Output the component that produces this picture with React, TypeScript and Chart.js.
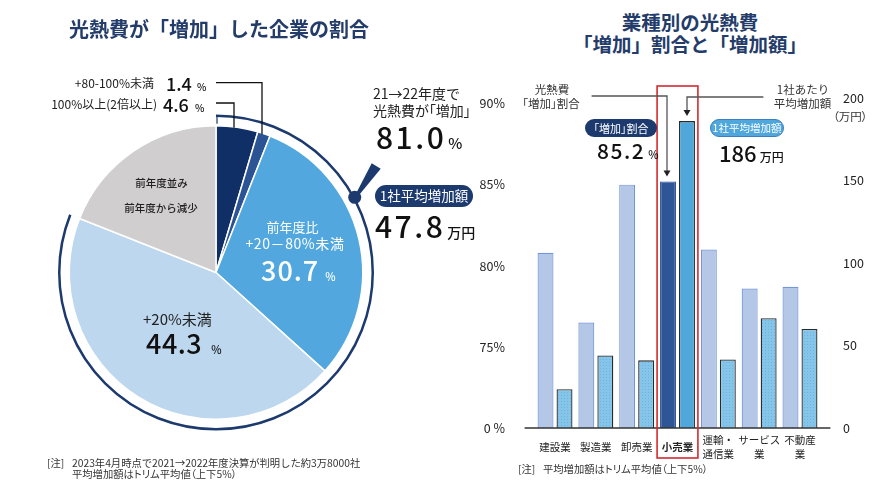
import React, { useEffect, useRef } from "react";
import { Chart, registerables } from "chart.js";

Chart.register(...registerables);

const FONT = "'Noto Sans CJK JP', 'Noto Sans', sans-serif";
const TITLE = "#243c6a";
const NAVY = "#1c3a6e";

// ---- left: share of companies whose utility cost increased
const pieLabels = ["100%以上(2倍以上)", "+80-100%未満", "前年度比+20－80%未満", "+20%未満", "前年度並み・前年度から減少"];
const pieValues = [4.6, 1.4, 30.7, 44.3, 19.0];
const pieColors = ["#0f2f66", "#2c5495", "#52a8de", "#bdd7ee", "#d0cece"];
const increaseShare = 81.0;
const avgIncreaseAll = 47.8;

// ---- right: by industry
const industries = [["建設業"], ["製造業"], ["卸売業"], ["小売業"], ["運輸・", "通信業"], ["サービス", "業"], ["不動産", "業"]];
const increaseRates = [80.8, 76.5, 85.0, 85.2, 81.0, 78.6, 78.7];
const increaseAmounts = [23.5, 44, 41, 186, 41.5, 66.5, 60];
const rateTicks = [70, 75, 80, 85, 90];
const amountTicks = [0, 50, 100, 150, 200];
const highlightIndex = 3;

const MARKER_FRACTION = 0.171;

const pieDecor = {
  id: "pieDecor",
  afterDatasetsDraw(chart: any) {
    const meta = chart.getDatasetMeta(0);
    const a0 = meta.data[0];
    const aEnd = meta.data[3];
    const cx = a0.x, cy = a0.y, R = a0.outerRadius;
    const ctx = chart.ctx as CanvasRenderingContext2D;
    const rr = R + 10;
    ctx.save();
    ctx.strokeStyle = NAVY;
    ctx.lineWidth = 2.5;
    ctx.beginPath();
    ctx.arc(cx, cy, rr, a0.startAngle, aEnd.endAngle);
    ctx.stroke();
    ctx.lineWidth = 1.2;
    ctx.beginPath();
    ctx.moveTo(cx + 1, cy - rr);
    ctx.lineTo(cx + 1, cy - R - 2);
    ctx.stroke();
    // marker dot + pointer
    const ad = a0.startAngle + MARKER_FRACTION * 2 * Math.PI;
    const dx = cx + (rr + 1) * Math.cos(ad);
    const dy = cy + (rr + 1) * Math.sin(ad);
    ctx.fillStyle = NAVY;
    ctx.beginPath();
    ctx.arc(dx, dy, 6.5, 0, Math.PI * 2);
    ctx.fill();
    ctx.beginPath();
    ctx.moveTo(dx + 2, dy - 5);
    ctx.lineTo(dx + 17, dy - 34);
    ctx.lineTo(dx + 26, dy - 28.5);
    ctx.lineTo(dx + 5, dy - 3);
    ctx.closePath();
    ctx.fill();
    // leader lines for small slices
    ctx.strokeStyle = "#111";
    ctx.lineWidth = 1.3;
    const o1 = 18, o2 = 46;
    ctx.beginPath();
    ctx.moveTo(cx, 103);
    ctx.lineTo(cx + o1, 103);
    ctx.lineTo(cx + o1, cy - Math.sqrt(R * R - o1 * o1) + 1);
    ctx.stroke();
    ctx.beginPath();
    ctx.moveTo(cx, 82.7);
    ctx.lineTo(cx + o2, 82.7);
    ctx.lineTo(cx + o2, cy - Math.sqrt(R * R - o2 * o2) + 1);
    ctx.stroke();
    ctx.restore();
  },
};

function arrowDown(ctx: CanvasRenderingContext2D, x: number, tipY: number) {
  ctx.beginPath();
  ctx.moveTo(x, tipY);
  ctx.lineTo(x - 3.5, tipY - 6);
  ctx.lineTo(x + 3.5, tipY - 6);
  ctx.closePath();
  ctx.fill();
}

const barDecor = {
  id: "barDecor",
  afterDatasetsDraw(chart: any) {
    const ctx = chart.ctx as CanvasRenderingContext2D;
    const a = chart.chartArea;
    const xs = chart.scales.x;
    ctx.save();
    ctx.strokeStyle = "#333";
    ctx.lineWidth = 1.6;
    ctx.beginPath();
    ctx.moveTo(a.left - 10, a.bottom);
    ctx.lineTo(a.right + 10, a.bottom);
    ctx.stroke();
    const cw = xs.width / chart.data.labels.length;
    const hx = xs.getPixelForValue(highlightIndex);
    ctx.strokeStyle = "#d42a2f";
    ctx.lineWidth = 1.6;
    ctx.strokeRect(hx - cw / 2, a.top - 12, cw, a.bottom - a.top + 42);
    const b0 = chart.getDatasetMeta(0).data[highlightIndex];
    const b1 = chart.getDatasetMeta(1).data[highlightIndex];
    ctx.strokeStyle = "#555";
    ctx.fillStyle = "#222";
    ctx.lineWidth = 1.3;
    const ly = a.top - 2;
    ctx.beginPath();
    ctx.moveTo(a.left + 57, ly);
    ctx.lineTo(b0.x - 1, ly);
    ctx.lineTo(b0.x - 1, b0.y - 10);
    ctx.stroke();
    arrowDown(ctx, b0.x - 1, b0.y - 5);
    ctx.beginPath();
    ctx.moveTo(a.right - 57, ly + 1);
    ctx.lineTo(b1.x, ly + 1);
    ctx.lineTo(b1.x, b1.y - 10);
    ctx.stroke();
    arrowDown(ctx, b1.x, b1.y - 5);
    ctx.restore();
  },
};

type TP = {
  x: number; y: number; size?: number; color?: string; weight?: number | string;
  align?: "left" | "center" | "right"; ls?: number; palt?: boolean; children: React.ReactNode;
};
function T({ x, y, size = 12, color = "#222", weight = 400, align = "left", ls = 0, palt = false, children }: TP) {
  const tx = align === "center" ? "-50%" : align === "right" ? "-100%" : "0";
  return (
    <div
      style={{
        position: "absolute", left: x, top: y, transform: `translate(${tx}, -50%)`,
        fontSize: size, color, fontWeight: weight as any, letterSpacing: ls, whiteSpace: "nowrap",
        lineHeight: 1, fontFeatureSettings: palt ? '"palt"' : "normal",
      }}
    >
      {children}
    </div>
  );
}

function Num({ x, y, value, unit, size, unitSize, color = "#111", ls = 0, gap = 4, weight = 500 }: any) {
  return (
    <div style={{ position: "absolute", left: x, top: y, transform: "translateY(-50%)", whiteSpace: "nowrap", lineHeight: 1, color }}>
      <span style={{ fontSize: size, letterSpacing: ls, fontWeight: weight }}>{value}</span>
      <span style={{ fontSize: unitSize, marginLeft: gap, fontWeight: weight }}>{unit}</span>
    </div>
  );
}

function Pill({ x, y, w, h, bg, border, size, children }: any) {
  return (
    <div
      style={{
        position: "absolute", left: x, top: y, width: w, height: h, boxSizing: "border-box",
        background: bg, border: border ? `1px solid ${border}` : "none", borderRadius: h / 2,
        color: "#fff", fontSize: size, display: "flex", alignItems: "center", justifyContent: "center",
        whiteSpace: "nowrap", lineHeight: 1, fontFeatureSettings: '"palt"',
      }}
    >
      {children}
    </div>
  );
}

const noPad = (s: any) => { s.paddingTop = 0; s.paddingBottom = 0; };

export default function App() {
  const pieRef = useRef<HTMLCanvasElement>(null);
  const barRef = useRef<HTMLCanvasElement>(null);

  useEffect(() => {
    const pie = new Chart(pieRef.current!, {
      type: "pie",
      data: {
        labels: pieLabels,
        datasets: [{ data: pieValues, backgroundColor: pieColors, borderColor: "#ffffff", borderWidth: 1.5 }],
      },
      options: {
        responsive: false,
        animation: false,
        events: [],
        layout: { padding: { left: 68.5, right: 76.5, top: 125, bottom: 67 } },
        plugins: { legend: { display: false }, tooltip: { enabled: false } },
      },
      plugins: [pieDecor],
    } as any);

    const barCanvas = barRef.current!;
    const tile = document.createElement("canvas");
    tile.width = 3;
    tile.height = 3;
    const tctx = tile.getContext("2d")!;
    tctx.fillStyle = "#86c5ea";
    tctx.fillRect(0, 0, 3, 3);
    tctx.fillStyle = "#6eb2df";
    tctx.fillRect(0, 0, 1, 1);
    const pattern = barCanvas.getContext("2d")!.createPattern(tile, "repeat");

    const tickFont = { family: FONT, size: 12.5 };
    const bar = new Chart(barCanvas, {
      type: "bar",
      data: {
        labels: industries,
        datasets: [
          {
            label: "光熱費「増加」割合",
            data: increaseRates,
            yAxisID: "y",
            backgroundColor: increaseRates.map((_, i) => (i === highlightIndex ? "#2f5597" : "#b4c7e7")),
            borderColor: increaseRates.map((_, i) => (i === highlightIndex ? "#2f5597" : "#7396d9")),
            borderWidth: 1.2,
            categoryPercentage: 0.93,
            barPercentage: 0.84,
          },
          {
            label: "1社あたり平均増加額",
            data: increaseAmounts,
            yAxisID: "y1",
            backgroundColor: increaseAmounts.map((_, i) => (i === highlightIndex ? "#4fa7dc" : pattern)),
            borderColor: "#2a2a2a",
            borderWidth: 1.3,
            categoryPercentage: 0.93,
            barPercentage: 0.84,
          },
        ],
      },
      options: {
        responsive: false,
        animation: false,
        events: [],
        layout: { padding: { top: 18, left: 0, right: 0, bottom: 0 } },
        plugins: { legend: { display: false }, tooltip: { enabled: false } },
        scales: {
          x: {
            grid: { display: false },
            border: { display: false },
            ticks: {
              color: "#222",
              padding: 4,
              crossAlign: "center",
              autoSkip: false,
              maxRotation: 0,
              font: (c: any) => ({ family: FONT, size: 10.5, weight: c.index === highlightIndex ? "bold" : "normal", lineHeight: 1.33 }),
            },
            afterFit: (s: any) => { s.height = 59; s.paddingLeft = 0; s.paddingRight = 0; },
          },
          y: {
            position: "left",
            min: 70,
            max: 90.34,
            grid: { display: false },
            border: { display: false },
            afterBuildTicks: (s: any) => { s.ticks = rateTicks.map((v) => ({ value: v })); },
            ticks: {
              color: "#222",
              padding: 21.6,
              font: tickFont,
              callback: (v: any) => (Number(v) === 70 ? "0 %" : v + "%"),
            },
            afterFit: (s: any) => { s.width = 54.6; noPad(s); },
          },
          y1: {
            position: "right",
            min: 0,
            max: 200,
            grid: { display: false },
            border: { display: false },
            afterBuildTicks: (s: any) => { s.ticks = amountTicks.map((v) => ({ value: v })); },
            ticks: { color: "#222", padding: 14.6, font: tickFont },
            afterFit: (s: any) => { s.width = 52.6; noPad(s); },
          },
        },
      },
      plugins: [barDecor],
    } as any);

    return () => {
      pie.destroy();
      bar.destroy();
    };
  }, []);

  return (
    <div
      style={{
        position: "absolute", left: 0, top: 0, width: 873, height: 487, background: "#fff",
        overflow: "hidden", fontFamily: FONT,
      }}
    >
      <canvas ref={pieRef} width={440} height={487} style={{ position: "absolute", left: 0, top: 0 }} />
      <canvas ref={barRef} width={393} height={407} style={{ position: "absolute", left: 480, top: 80 }} />

      {/* titles */}
      <T x={219} y={29} size={20} weight={700} color={TITLE} align="center">光熱費が「増加」した企業の割合</T>
      <T x={690} y={22} size={19.5} weight={700} color={TITLE} align="center">業種別の光熱費</T>
      <T x={690} y={43.5} size={19.5} weight={700} color={TITLE} align="center">「増加」割合と「増加額」</T>

      {/* pie labels */}
      <T x={154} y={82.7} size={12} align="right">+80-100%未満</T>
      <Num x={166} y={82.5} value={pieValues[1].toFixed(1)} unit="%" size={18} unitSize={10} gap={5} />
      <T x={157} y={104.3} size={12} align="right">100%以上(2倍以上)</T>
      <Num x={163} y={104.3} value={pieValues[0].toFixed(1)} unit="%" size={18} unitSize={10} gap={6} />

      <T x={161.5} y={183} size={10.5} weight={500} align="center">前年度並み</T>
      <T x={161} y={207.7} size={10.5} weight={500} align="center">前年度から減少</T>

      <T x={292.5} y={225.7} size={13} color="#fff" align="center">前年度比</T>
      <T x={295} y={242.7} size={14} color="#fff" ls={0.6} align="center">+20－80%未満</T>
      <Num x={261} y={269} value={pieValues[2].toFixed(1)} unit="%" size={27} unitSize={11} color="#fff" ls={1} gap={6} />

      <T x={143} y={318} size={15}>+20%未満</T>
      <Num x={146} y={342} value={pieValues[3].toFixed(1)} unit="%" size={27} unitSize={11} ls={0.5} gap={9} />

      <T x={373} y={93.3} size={14}>21→22年度で</T>
      <T x={373} y={110} size={14} palt>光熱費が「増加」</T>
      <Num x={376} y={136} value={increaseShare.toFixed(1)} unit="%" size={30} unitSize={15} ls={2.5} gap={2} />
      <Pill x={375} y={185} w={98} h={22} bg={NAVY} size={13.5}>1社平均増加額</Pill>
      <Num x={375} y={225} value={avgIncreaseAll.toFixed(1)} unit="万円" size={30} unitSize={14} ls={2.5} gap={2} />

      {/* bar annotations */}
      <T x={552} y={90} size={11.5} color="#333" align="center">光熱費</T>
      <T x={551} y={104} size={11.5} color="#333" align="center" palt>「増加」割合</T>
      <T x={803} y={90} size={11.5} color="#333" align="center">1社あたり</T>
      <T x={802.5} y={104} size={11.5} color="#333" align="center">平均増加額</T>
      <T x={833} y={117} size={11.5} color="#333" palt>（万円）</T>

      <Pill x={585} y={119} w={72} h={18} bg={NAVY} size={11}>「増加」割合</Pill>
      <Num x={597} y={150} value={increaseRates[highlightIndex].toFixed(1)} unit="%" size={21} unitSize={11} ls={1.5} gap={3} />
      <Pill x={710} y={119} w={74} h={18} bg="#4fa7dc" border="#3a7dc0" size={10.5}>1社平均増加額</Pill>
      <Num x={719} y={152} value={String(increaseAmounts[highlightIndex])} unit="万円" size={22} unitSize={12} gap={3} />

      {/* notes */}
      <T x={47} y={463} size={10.3} color="#333">[注]</T>
      <T x={72} y={463} size={10.3} color="#333">2023年4月時点で2021→2022年度決算が判明した約3万8000社</T>
      <T x={72} y={474.3} size={10.3} color="#333" palt>平均増加額はトリム平均値（上下5%）</T>
      <T x={518} y={469.3} size={10.3} color="#333">[注]</T>
      <T x={543} y={469.3} size={10.3} color="#333" palt>平均増加額はトリム平均値（上下5%）</T>
    </div>
  );
}
